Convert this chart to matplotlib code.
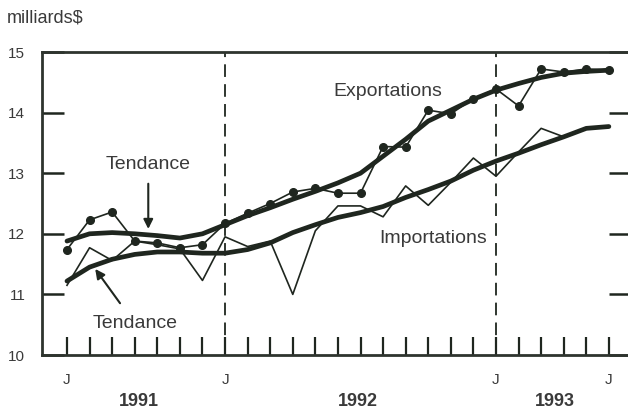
import matplotlib.pyplot as plt
import numpy as np
from matplotlib.transforms import blended_transform_factory

plt.rcParams['font.family'] = ['Liberation Sans', 'DejaVu Sans']

# Monthly data, June 1991 to June 1993 (milliards $)
months = np.arange(25)
exports = [11.74, 12.23, 12.36, 11.88, 11.85, 11.77, 11.82, 12.17, 12.34, 12.50,
           12.69, 12.75, 12.67, 12.67, 13.44, 13.43, 14.04, 13.98, 14.23, 14.39,
           14.11, 14.72, 14.67, 14.72, 14.70]
exports_trend = [11.88, 12.00, 12.02, 12.00, 11.97, 11.93, 12.00, 12.15, 12.30, 12.43,
                 12.57, 12.70, 12.84, 13.00, 13.28, 13.56, 13.86, 14.04, 14.22, 14.37,
                 14.48, 14.58, 14.65, 14.68, 14.70]
imports = [11.15, 11.77, 11.56, 11.88, 11.82, 11.75, 11.23, 11.95, 11.79, 11.88,
           11.00, 12.05, 12.46, 12.46, 12.28, 12.79, 12.47, 12.85, 13.25, 12.95,
           13.35, 13.74, 13.60, 13.74, 13.77]
imports_trend = [11.22, 11.45, 11.58, 11.66, 11.70, 11.70, 11.68, 11.68, 11.74, 11.85,
                 12.02, 12.15, 12.27, 12.35, 12.45, 12.60, 12.73, 12.87, 13.05, 13.20,
                 13.33, 13.47, 13.60, 13.74, 13.77]
j_ticks = [0, 7, 19, 24]
j_labels = ['J', 'J', 'J', 'J']
year_pos = [3.2, 12.9, 21.6]
year_labels = ['1991', '1992', '1993']

ink = '#1f261f'
txt = '#3a3a3a'

fig = plt.figure(figsize=(6.28, 4.11), dpi=100)
ax = fig.add_axes([42 / 628, 56 / 411, 589 / 628, 303 / 411])

ax.plot(months, exports, color=ink, lw=1.2, marker='o', ms=5.5, zorder=3)
ax.plot(months, exports_trend, color=ink, lw=3.4, solid_capstyle='round',
        solid_joinstyle='round', zorder=4)
ax.plot(months, imports, color=ink, lw=1.2, zorder=3)
ax.plot(months, imports_trend, color=ink, lw=3.4, solid_capstyle='round',
        solid_joinstyle='round', zorder=4)

for m in [7, 19]:
    ax.axvline(m, color=ink, lw=1.3, dashes=(7, 4), zorder=2)

ax.set_xlim(-1.107, 24.98)
ax.set_ylim(10, 15)

ax.set_xticks(j_ticks)
ax.set_xticklabels(j_labels)
ax.set_xticks(months, minor=True)
ax.tick_params(axis='x', which='both', direction='in', length=13, width=1.6,
               color=ink, pad=13, labelsize=11, labelcolor=txt)
ax.set_yticks([10, 11, 12, 13, 14, 15])
ax.tick_params(axis='y', which='both', direction='in', length=16, width=1.8,
               color=ink, right=True, pad=12, labelsize=11, labelcolor=txt)

for side in ['left', 'top', 'bottom']:
    ax.spines[side].set_linewidth(2)
    ax.spines[side].set_color('#2e342e')
ax.spines['right'].set_visible(False)

trans = blended_transform_factory(ax.transData, ax.transAxes)
for x, lab in zip(year_pos, year_labels):
    ax.text(x, -0.155, lab, transform=trans, ha='center', va='center',
            fontsize=13, fontweight='bold', color=txt)

fig.text(7 / 628, 1 - 18 / 411, 'milliards$', ha='left', va='center',
         fontsize=13, color=txt)

ax.text(14.2, 14.35, 'Exportations', ha='center', va='center', fontsize=14, color=txt)
ax.text(16.2, 11.92, 'Importations', ha='center', va='center', fontsize=14, color=txt)

ax.annotate('Tendance', xy=(3.6, 12.08), xytext=(3.6, 13.15),
            ha='center', va='center', fontsize=14, color=txt,
            arrowprops=dict(arrowstyle='-|>', color=ink, lw=1.5,
                            mutation_scale=14, shrinkA=6, shrinkB=0))
ax.annotate('Tendance', xy=(1.25, 11.42), xytext=(3.0, 10.52),
            ha='center', va='center', fontsize=14, color=txt,
            arrowprops=dict(arrowstyle='-|>', color=ink, lw=1.5,
                            mutation_scale=14, shrinkA=8, shrinkB=0))

fig.savefig('out.png', dpi=100)
